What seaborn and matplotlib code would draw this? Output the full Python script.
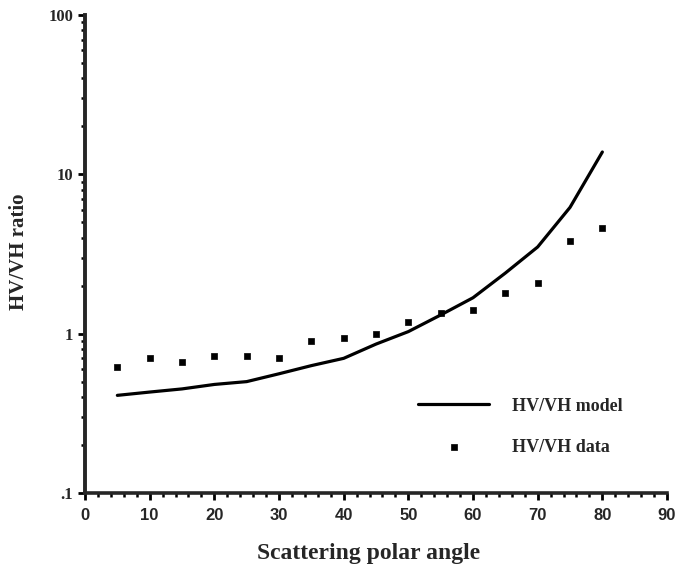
import matplotlib
matplotlib.use("Agg")
import matplotlib.pyplot as plt
import matplotlib.ticker as mticker
import seaborn as sns
import pandas as pd

# ---- data ----
model_angle = [5, 10, 15, 20, 25, 30, 35, 40, 45, 50, 55, 60, 65, 70, 75, 80]
model_ratio = [0.41, 0.43, 0.45, 0.48, 0.50, 0.56, 0.63, 0.70, 0.86, 1.03, 1.31, 1.68, 2.4, 3.5, 6.2, 13.8]

data_angle = [5, 10, 15, 20, 25, 30, 35, 40, 45, 50, 55, 60, 65, 70, 75, 80]
data_ratio = [0.62, 0.70, 0.66, 0.72, 0.72, 0.70, 0.90, 0.94, 1.00, 1.19, 1.35, 1.40, 1.81, 2.09, 3.83, 4.62]

x_ticks = [0, 10, 20, 30, 40, 50, 60, 70, 80, 90]
y_ticks = [0.1, 1, 10, 100]
y_tick_labels = [".1", "1", "10", "100"]

df_model = pd.DataFrame({"angle": model_angle, "ratio": model_ratio})
df_data = pd.DataFrame({"angle": data_angle, "ratio": data_ratio})

sns.set_style("ticks")
plt.rcParams["font.family"] = ["Liberation Serif", "DejaVu Serif"]

fig = plt.figure(figsize=(6.78, 5.74), dpi=100)
ax = fig.add_axes([0.1254, 0.1411, 0.8584, 0.8329])

sns.lineplot(data=df_model, x="angle", y="ratio", ax=ax, color="black",
             linewidth=2.3, label="HV/VH model", legend=False)
sns.scatterplot(data=df_data, x="angle", y="ratio", ax=ax, color="black",
                marker="s", s=20, edgecolor="black", linewidth=0.5,
                label="HV/VH data", legend=False)

ax.set_yscale("log")
ax.set_xlim(0, 90)
ax.set_ylim(0.1, 100)

ax.xaxis.set_major_locator(mticker.FixedLocator(x_ticks))
ax.xaxis.set_minor_locator(mticker.MultipleLocator(2))
ax.yaxis.set_major_locator(mticker.FixedLocator(y_ticks))
ax.yaxis.set_major_formatter(mticker.FixedFormatter(y_tick_labels))
ax.yaxis.set_minor_locator(mticker.LogLocator(base=10, subs=range(2, 10)))
ax.yaxis.set_minor_formatter(mticker.NullFormatter())

ax.tick_params(axis="both", which="major", direction="out", length=5, width=2, color="black")
ax.tick_params(axis="both", which="minor", direction="out", length=3, width=1.8, color="black")
ax.tick_params(axis="x", which="major", pad=6)

for lbl in ax.get_xticklabels():
    lbl.set_family(["Liberation Sans", "DejaVu Sans"])
    lbl.set_fontweight("bold")
    lbl.set_fontsize(12)
for lbl in ax.get_yticklabels():
    lbl.set_fontweight("bold")
    lbl.set_fontsize(12)

sns.despine(ax=ax)
ax.spines["left"].set_linewidth(2.8)
ax.spines["bottom"].set_linewidth(2.6)

ax.set_xlabel("Scattering polar angle", fontsize=17, fontweight="bold")
ax.xaxis.set_label_coords(0.488, -0.105)
ax.set_ylabel("HV/VH ratio", fontsize=15, fontweight="bold")
ax.yaxis.set_label_coords(-0.096, 0.505)

leg = ax.legend(loc="upper left", bbox_to_anchor=(0.617, 0.307),
                bbox_transform=fig.transFigure, frameon=False,
                prop={"family": "Liberation Serif", "weight": "bold", "size": 13},
                handlelength=3.9, handletextpad=1.3, labelspacing=1.35,
                borderpad=0, borderaxespad=0, markerscale=1.0)

fig.savefig("out.png", dpi=100)
